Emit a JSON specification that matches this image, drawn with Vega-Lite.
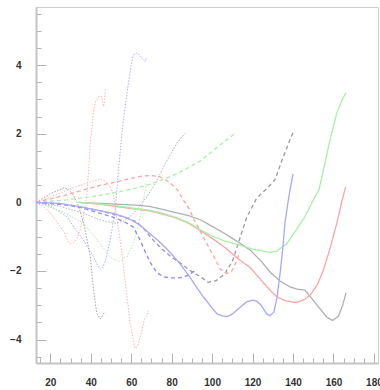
{
  "$schema": "https://vega.github.io/schema/vega-lite/v6.json",
  "autosize": {"type": "none"},
  "padding": {"left": 36, "top": 7, "right": 2, "bottom": 27},
  "width": 342,
  "height": 356,
  "background": "white",
  "config": {"view": {"stroke": "#d0d0d0", "strokeWidth": 1}},
  "data": {"values": [
    {"s": "Gs", "t": "solid", "x": 34, "y": 0}, {"s": "Gs", "t": "solid", "x": 45, "y": -0.03}, {"s": "Gs", "t": "solid", "x": 55, "y": -0.06}, {"s": "Gs", "t": "solid", "x": 62, "y": -0.08}, {"s": "Gs", "t": "solid", "x": 69, "y": -0.12}, {"s": "Gs", "t": "solid", "x": 75, "y": -0.2}, {"s": "Gs", "t": "solid", "x": 82, "y": -0.3}, {"s": "Gs", "t": "solid", "x": 88, "y": -0.38}, {"s": "Gs", "t": "solid", "x": 94, "y": -0.5}, {"s": "Gs", "t": "solid", "x": 100, "y": -0.7}, {"s": "Gs", "t": "solid", "x": 106, "y": -0.9}, {"s": "Gs", "t": "solid", "x": 110, "y": -1.05}, {"s": "Gs", "t": "solid", "x": 114, "y": -1.2}, {"s": "Gs", "t": "solid", "x": 119, "y": -1.4}, {"s": "Gs", "t": "solid", "x": 124, "y": -1.7}, {"s": "Gs", "t": "solid", "x": 129, "y": -2.05}, {"s": "Gs", "t": "solid", "x": 133.6, "y": -2.29}, {"s": "Gs", "t": "solid", "x": 138.5, "y": -2.46}, {"s": "Gs", "t": "solid", "x": 142, "y": -2.53}, {"s": "Gs", "t": "solid", "x": 145.9, "y": -2.56}, {"s": "Gs", "t": "solid", "x": 148.4, "y": -2.74}, {"s": "Gs", "t": "solid", "x": 152, "y": -3.0}, {"s": "Gs", "t": "solid", "x": 156.6, "y": -3.34}, {"s": "Gs", "t": "solid", "x": 159.6, "y": -3.44}, {"s": "Gs", "t": "solid", "x": 162.4, "y": -3.32}, {"s": "Gs", "t": "solid", "x": 164.5, "y": -3.0}, {"s": "Gs", "t": "solid", "x": 166.2, "y": -2.64},

    {"s": "Rs", "t": "solid", "x": 34, "y": 0}, {"s": "Rs", "t": "solid", "x": 45, "y": -0.06}, {"s": "Rs", "t": "solid", "x": 55, "y": -0.14}, {"s": "Rs", "t": "solid", "x": 62, "y": -0.2}, {"s": "Rs", "t": "solid", "x": 69, "y": -0.25}, {"s": "Rs", "t": "solid", "x": 76, "y": -0.35}, {"s": "Rs", "t": "solid", "x": 82, "y": -0.45}, {"s": "Rs", "t": "solid", "x": 88, "y": -0.6}, {"s": "Rs", "t": "solid", "x": 94, "y": -0.81}, {"s": "Rs", "t": "solid", "x": 100, "y": -1.05}, {"s": "Rs", "t": "solid", "x": 106, "y": -1.3}, {"s": "Rs", "t": "solid", "x": 113.8, "y": -1.69}, {"s": "Rs", "t": "solid", "x": 118.8, "y": -1.9}, {"s": "Rs", "t": "solid", "x": 124, "y": -2.25}, {"s": "Rs", "t": "solid", "x": 128.6, "y": -2.56}, {"s": "Rs", "t": "solid", "x": 132, "y": -2.75}, {"s": "Rs", "t": "solid", "x": 136, "y": -2.86}, {"s": "Rs", "t": "solid", "x": 141.5, "y": -2.92}, {"s": "Rs", "t": "solid", "x": 145, "y": -2.85}, {"s": "Rs", "t": "solid", "x": 148.4, "y": -2.71}, {"s": "Rs", "t": "solid", "x": 152, "y": -2.4}, {"s": "Rs", "t": "solid", "x": 155, "y": -1.98}, {"s": "Rs", "t": "solid", "x": 158, "y": -1.4}, {"s": "Rs", "t": "solid", "x": 161.6, "y": -0.62}, {"s": "Rs", "t": "solid", "x": 164, "y": 0.0}, {"s": "Rs", "t": "solid", "x": 166, "y": 0.45},

    {"s": "Ns", "t": "solid", "x": 34, "y": 0}, {"s": "Ns", "t": "solid", "x": 45, "y": -0.05}, {"s": "Ns", "t": "solid", "x": 55, "y": -0.12}, {"s": "Ns", "t": "solid", "x": 62, "y": -0.18}, {"s": "Ns", "t": "solid", "x": 69, "y": -0.23}, {"s": "Ns", "t": "solid", "x": 76, "y": -0.33}, {"s": "Ns", "t": "solid", "x": 82, "y": -0.44}, {"s": "Ns", "t": "solid", "x": 88, "y": -0.58}, {"s": "Ns", "t": "solid", "x": 94, "y": -0.79}, {"s": "Ns", "t": "solid", "x": 100, "y": -0.98}, {"s": "Ns", "t": "solid", "x": 106, "y": -1.12}, {"s": "Ns", "t": "solid", "x": 113.8, "y": -1.25}, {"s": "Ns", "t": "solid", "x": 120, "y": -1.36}, {"s": "Ns", "t": "solid", "x": 128.6, "y": -1.46}, {"s": "Ns", "t": "solid", "x": 132, "y": -1.42}, {"s": "Ns", "t": "solid", "x": 136.9, "y": -1.2}, {"s": "Ns", "t": "solid", "x": 141, "y": -0.85}, {"s": "Ns", "t": "solid", "x": 145.9, "y": -0.42}, {"s": "Ns", "t": "solid", "x": 149, "y": -0.05}, {"s": "Ns", "t": "solid", "x": 152.8, "y": 0.36}, {"s": "Ns", "t": "solid", "x": 155, "y": 0.94}, {"s": "Ns", "t": "solid", "x": 158.3, "y": 1.82}, {"s": "Ns", "t": "solid", "x": 161.6, "y": 2.6}, {"s": "Ns", "t": "solid", "x": 164, "y": 2.95}, {"s": "Ns", "t": "solid", "x": 166.2, "y": 3.2},

    {"s": "Bs", "t": "solid", "x": 13, "y": 0}, {"s": "Bs", "t": "solid", "x": 25, "y": -0.03}, {"s": "Bs", "t": "solid", "x": 35, "y": -0.13}, {"s": "Bs", "t": "solid", "x": 45, "y": -0.25}, {"s": "Bs", "t": "solid", "x": 51, "y": -0.32}, {"s": "Bs", "t": "solid", "x": 58, "y": -0.45}, {"s": "Bs", "t": "solid", "x": 64, "y": -0.65}, {"s": "Bs", "t": "solid", "x": 69, "y": -0.9}, {"s": "Bs", "t": "solid", "x": 74, "y": -1.15}, {"s": "Bs", "t": "solid", "x": 78, "y": -1.38}, {"s": "Bs", "t": "solid", "x": 84, "y": -1.78}, {"s": "Bs", "t": "solid", "x": 89, "y": -2.18}, {"s": "Bs", "t": "solid", "x": 92, "y": -2.45}, {"s": "Bs", "t": "solid", "x": 96, "y": -2.78}, {"s": "Bs", "t": "solid", "x": 100, "y": -3.08}, {"s": "Bs", "t": "solid", "x": 102.5, "y": -3.25}, {"s": "Bs", "t": "solid", "x": 105, "y": -3.31}, {"s": "Bs", "t": "solid", "x": 107.5, "y": -3.33}, {"s": "Bs", "t": "solid", "x": 110, "y": -3.25}, {"s": "Bs", "t": "solid", "x": 114, "y": -3.05}, {"s": "Bs", "t": "solid", "x": 117, "y": -2.9}, {"s": "Bs", "t": "solid", "x": 120, "y": -2.85}, {"s": "Bs", "t": "solid", "x": 122, "y": -2.88}, {"s": "Bs", "t": "solid", "x": 124, "y": -2.98}, {"s": "Bs", "t": "solid", "x": 127, "y": -3.25}, {"s": "Bs", "t": "solid", "x": 128.5, "y": -3.3}, {"s": "Bs", "t": "solid", "x": 130.5, "y": -3.2}, {"s": "Bs", "t": "solid", "x": 132, "y": -2.8}, {"s": "Bs", "t": "solid", "x": 133.6, "y": -2.07}, {"s": "Bs", "t": "solid", "x": 135, "y": -1.3}, {"s": "Bs", "t": "solid", "x": 136, "y": -0.6}, {"s": "Bs", "t": "solid", "x": 137.5, "y": 0.0}, {"s": "Bs", "t": "solid", "x": 138.5, "y": 0.36}, {"s": "Bs", "t": "solid", "x": 140, "y": 0.83},

    {"s": "Gd", "t": "dashed", "x": 13, "y": 0}, {"s": "Gd", "t": "dashed", "x": 30, "y": -0.08}, {"s": "Gd", "t": "dashed", "x": 45, "y": -0.25}, {"s": "Gd", "t": "dashed", "x": 55, "y": -0.4}, {"s": "Gd", "t": "dashed", "x": 62, "y": -0.55}, {"s": "Gd", "t": "dashed", "x": 66, "y": -0.75}, {"s": "Gd", "t": "dashed", "x": 70, "y": -1.05}, {"s": "Gd", "t": "dashed", "x": 75, "y": -1.35}, {"s": "Gd", "t": "dashed", "x": 80, "y": -1.6}, {"s": "Gd", "t": "dashed", "x": 85, "y": -1.8}, {"s": "Gd", "t": "dashed", "x": 89, "y": -1.98}, {"s": "Gd", "t": "dashed", "x": 95, "y": -2.2}, {"s": "Gd", "t": "dashed", "x": 98, "y": -2.33}, {"s": "Gd", "t": "dashed", "x": 102, "y": -2.28}, {"s": "Gd", "t": "dashed", "x": 106, "y": -2.1}, {"s": "Gd", "t": "dashed", "x": 110, "y": -1.72}, {"s": "Gd", "t": "dashed", "x": 114, "y": -1.0}, {"s": "Gd", "t": "dashed", "x": 117, "y": -0.45}, {"s": "Gd", "t": "dashed", "x": 122, "y": 0.12}, {"s": "Gd", "t": "dashed", "x": 127, "y": 0.4}, {"s": "Gd", "t": "dashed", "x": 131, "y": 0.65}, {"s": "Gd", "t": "dashed", "x": 135, "y": 1.3}, {"s": "Gd", "t": "dashed", "x": 138, "y": 1.75}, {"s": "Gd", "t": "dashed", "x": 140.5, "y": 2.1},

    {"s": "Rd", "t": "dashed", "x": 13, "y": 0}, {"s": "Rd", "t": "dashed", "x": 20, "y": 0.1}, {"s": "Rd", "t": "dashed", "x": 28, "y": 0.22}, {"s": "Rd", "t": "dashed", "x": 36.5, "y": 0.36}, {"s": "Rd", "t": "dashed", "x": 45, "y": 0.5}, {"s": "Rd", "t": "dashed", "x": 53, "y": 0.6}, {"s": "Rd", "t": "dashed", "x": 60, "y": 0.7}, {"s": "Rd", "t": "dashed", "x": 66, "y": 0.77}, {"s": "Rd", "t": "dashed", "x": 70, "y": 0.78}, {"s": "Rd", "t": "dashed", "x": 74, "y": 0.75}, {"s": "Rd", "t": "dashed", "x": 79, "y": 0.58}, {"s": "Rd", "t": "dashed", "x": 83, "y": 0.35}, {"s": "Rd", "t": "dashed", "x": 86, "y": 0.05}, {"s": "Rd", "t": "dashed", "x": 89, "y": -0.22}, {"s": "Rd", "t": "dashed", "x": 91, "y": -0.5}, {"s": "Rd", "t": "dashed", "x": 96, "y": -1.05}, {"s": "Rd", "t": "dashed", "x": 100.6, "y": -1.55}, {"s": "Rd", "t": "dashed", "x": 104, "y": -1.95}, {"s": "Rd", "t": "dashed", "x": 107.3, "y": -2.07}, {"s": "Rd", "t": "dashed", "x": 109.7, "y": -2.0}, {"s": "Rd", "t": "dashed", "x": 112.2, "y": -1.7}, {"s": "Rd", "t": "dashed", "x": 113.5, "y": -1.45},

    {"s": "Nd", "t": "dashed", "x": 13, "y": 0}, {"s": "Nd", "t": "dashed", "x": 28, "y": 0.07}, {"s": "Nd", "t": "dashed", "x": 40, "y": 0.16}, {"s": "Nd", "t": "dashed", "x": 50, "y": 0.26}, {"s": "Nd", "t": "dashed", "x": 60, "y": 0.38}, {"s": "Nd", "t": "dashed", "x": 68, "y": 0.5}, {"s": "Nd", "t": "dashed", "x": 75, "y": 0.65}, {"s": "Nd", "t": "dashed", "x": 82, "y": 0.82}, {"s": "Nd", "t": "dashed", "x": 88, "y": 1.0}, {"s": "Nd", "t": "dashed", "x": 94, "y": 1.2}, {"s": "Nd", "t": "dashed", "x": 99, "y": 1.43}, {"s": "Nd", "t": "dashed", "x": 105, "y": 1.72}, {"s": "Nd", "t": "dashed", "x": 111.4, "y": 2.01},

    {"s": "Bd", "t": "dashed", "x": 13, "y": 0}, {"s": "Bd", "t": "dashed", "x": 25, "y": -0.05}, {"s": "Bd", "t": "dashed", "x": 35, "y": -0.15}, {"s": "Bd", "t": "dashed", "x": 44.7, "y": -0.32}, {"s": "Bd", "t": "dashed", "x": 52, "y": -0.45}, {"s": "Bd", "t": "dashed", "x": 57, "y": -0.58}, {"s": "Bd", "t": "dashed", "x": 61, "y": -0.72}, {"s": "Bd", "t": "dashed", "x": 64.4, "y": -1.1}, {"s": "Bd", "t": "dashed", "x": 67, "y": -1.45}, {"s": "Bd", "t": "dashed", "x": 69.4, "y": -1.75}, {"s": "Bd", "t": "dashed", "x": 72.7, "y": -2.05}, {"s": "Bd", "t": "dashed", "x": 76, "y": -2.17}, {"s": "Bd", "t": "dashed", "x": 79.3, "y": -2.2}, {"s": "Bd", "t": "dashed", "x": 84, "y": -2.2}, {"s": "Bd", "t": "dashed", "x": 88, "y": -2.13}, {"s": "Bd", "t": "dashed", "x": 92, "y": -1.97},

    {"s": "Ra", "t": "dotted", "x": 13, "y": 0}, {"s": "Ra", "t": "dotted", "x": 17, "y": -0.15}, {"s": "Ra", "t": "dotted", "x": 20, "y": -0.3}, {"s": "Ra", "t": "dotted", "x": 23, "y": -0.55}, {"s": "Ra", "t": "dotted", "x": 26.6, "y": -0.85}, {"s": "Ra", "t": "dotted", "x": 28.5, "y": -1.1}, {"s": "Ra", "t": "dotted", "x": 29.9, "y": -1.2}, {"s": "Ra", "t": "dotted", "x": 31.5, "y": -1.18}, {"s": "Ra", "t": "dotted", "x": 33.2, "y": -1.05}, {"s": "Ra", "t": "dotted", "x": 34.8, "y": -0.8}, {"s": "Ra", "t": "dotted", "x": 36.5, "y": -0.42}, {"s": "Ra", "t": "dotted", "x": 38.1, "y": 0.26}, {"s": "Ra", "t": "dotted", "x": 39, "y": 1.0}, {"s": "Ra", "t": "dotted", "x": 39.8, "y": 1.72}, {"s": "Ra", "t": "dotted", "x": 40.6, "y": 2.2}, {"s": "Ra", "t": "dotted", "x": 41.4, "y": 2.69}, {"s": "Ra", "t": "dotted", "x": 42.5, "y": 2.95}, {"s": "Ra", "t": "dotted", "x": 43.9, "y": 3.08}, {"s": "Ra", "t": "dotted", "x": 45.5, "y": 3.08}, {"s": "Ra", "t": "dotted", "x": 46.3, "y": 2.79}, {"s": "Ra", "t": "dotted", "x": 46.8, "y": 2.9}, {"s": "Ra", "t": "dotted", "x": 47.2, "y": 3.33},

    {"s": "Rb", "t": "dotted", "x": 13, "y": 0}, {"s": "Rb", "t": "dotted", "x": 20, "y": 0.15}, {"s": "Rb", "t": "dotted", "x": 28, "y": 0.35}, {"s": "Rb", "t": "dotted", "x": 35, "y": 0.5}, {"s": "Rb", "t": "dotted", "x": 40, "y": 0.6}, {"s": "Rb", "t": "dotted", "x": 44.7, "y": 0.68}, {"s": "Rb", "t": "dotted", "x": 47.5, "y": 0.6}, {"s": "Rb", "t": "dotted", "x": 49.6, "y": 0.46}, {"s": "Rb", "t": "dotted", "x": 51.2, "y": 0.2}, {"s": "Rb", "t": "dotted", "x": 53, "y": -0.5}, {"s": "Rb", "t": "dotted", "x": 55, "y": -1.3}, {"s": "Rb", "t": "dotted", "x": 56.2, "y": -1.88}, {"s": "Rb", "t": "dotted", "x": 58, "y": -2.8}, {"s": "Rb", "t": "dotted", "x": 59.5, "y": -3.53}, {"s": "Rb", "t": "dotted", "x": 61, "y": -4.0}, {"s": "Rb", "t": "dotted", "x": 62, "y": -4.26}, {"s": "Rb", "t": "dotted", "x": 63, "y": -4.2}, {"s": "Rb", "t": "dotted", "x": 64.4, "y": -3.92}, {"s": "Rb", "t": "dotted", "x": 66, "y": -3.55}, {"s": "Rb", "t": "dotted", "x": 66.9, "y": -3.34}, {"s": "Rb", "t": "dotted", "x": 67.7, "y": -3.3}, {"s": "Rb", "t": "dotted", "x": 68.5, "y": -3.15},

    {"s": "Ba", "t": "dotted", "x": 13, "y": 0}, {"s": "Ba", "t": "dotted", "x": 20, "y": -0.1}, {"s": "Ba", "t": "dotted", "x": 28.2, "y": -0.42}, {"s": "Ba", "t": "dotted", "x": 32, "y": -0.75}, {"s": "Ba", "t": "dotted", "x": 36.4, "y": -1.1}, {"s": "Ba", "t": "dotted", "x": 41.4, "y": -1.59}, {"s": "Ba", "t": "dotted", "x": 43.5, "y": -1.85}, {"s": "Ba", "t": "dotted", "x": 44.7, "y": -1.95}, {"s": "Ba", "t": "dotted", "x": 46, "y": -1.9}, {"s": "Ba", "t": "dotted", "x": 47.5, "y": -1.65}, {"s": "Ba", "t": "dotted", "x": 49.6, "y": -1.1}, {"s": "Ba", "t": "dotted", "x": 52.1, "y": -0.22}, {"s": "Ba", "t": "dotted", "x": 53.5, "y": 0.8}, {"s": "Ba", "t": "dotted", "x": 55.4, "y": 2.01}, {"s": "Ba", "t": "dotted", "x": 57, "y": 2.8}, {"s": "Ba", "t": "dotted", "x": 58.6, "y": 3.47}, {"s": "Ba", "t": "dotted", "x": 60, "y": 4.0}, {"s": "Ba", "t": "dotted", "x": 61.1, "y": 4.3}, {"s": "Ba", "t": "dotted", "x": 62.8, "y": 4.35}, {"s": "Ba", "t": "dotted", "x": 64, "y": 4.3}, {"s": "Ba", "t": "dotted", "x": 65.3, "y": 4.2}, {"s": "Ba", "t": "dotted", "x": 67, "y": 4.1}, {"s": "Ba", "t": "dotted", "x": 67.5, "y": 4.23},

    {"s": "Na", "t": "dotted", "x": 13, "y": 0}, {"s": "Na", "t": "dotted", "x": 25, "y": -0.25}, {"s": "Na", "t": "dotted", "x": 36.5, "y": -0.61}, {"s": "Na", "t": "dotted", "x": 44.7, "y": -1.2}, {"s": "Na", "t": "dotted", "x": 49.6, "y": -1.59}, {"s": "Na", "t": "dotted", "x": 53.7, "y": -1.73}, {"s": "Na", "t": "dotted", "x": 57.8, "y": -1.59}, {"s": "Na", "t": "dotted", "x": 60.5, "y": -1.25}, {"s": "Na", "t": "dotted", "x": 62.7, "y": -0.9}, {"s": "Na", "t": "dotted", "x": 64.5, "y": -0.4}, {"s": "Na", "t": "dotted", "x": 66, "y": 0.07}, {"s": "Na", "t": "dotted", "x": 67.7, "y": 0.6},

    {"s": "Ga", "t": "dotted", "x": 13, "y": 0}, {"s": "Ga", "t": "dotted", "x": 20, "y": 0.25}, {"s": "Ga", "t": "dotted", "x": 26.6, "y": 0.42}, {"s": "Ga", "t": "dotted", "x": 29, "y": 0.38}, {"s": "Ga", "t": "dotted", "x": 31, "y": 0.25}, {"s": "Ga", "t": "dotted", "x": 33.2, "y": 0.0}, {"s": "Ga", "t": "dotted", "x": 35, "y": -0.3}, {"s": "Ga", "t": "dotted", "x": 36.5, "y": -0.61}, {"s": "Ga", "t": "dotted", "x": 38.2, "y": -1.1}, {"s": "Ga", "t": "dotted", "x": 39.8, "y": -1.59}, {"s": "Ga", "t": "dotted", "x": 40.6, "y": -2.1}, {"s": "Ga", "t": "dotted", "x": 41.4, "y": -2.56}, {"s": "Ga", "t": "dotted", "x": 43, "y": -3.24}, {"s": "Ga", "t": "dotted", "x": 44.7, "y": -3.39}, {"s": "Ga", "t": "dotted", "x": 45.5, "y": -3.35}, {"s": "Ga", "t": "dotted", "x": 46.3, "y": -3.24}, {"s": "Ga", "t": "dotted", "x": 47.2, "y": -3.2},

    {"s": "Gb", "t": "dotted", "x": 13, "y": 0}, {"s": "Gb", "t": "dotted", "x": 25, "y": -0.12}, {"s": "Gb", "t": "dotted", "x": 36.5, "y": -0.32}, {"s": "Gb", "t": "dotted", "x": 42, "y": -0.45}, {"s": "Gb", "t": "dotted", "x": 47.9, "y": -0.57}, {"s": "Gb", "t": "dotted", "x": 52.8, "y": -0.61}, {"s": "Gb", "t": "dotted", "x": 56, "y": -0.55}, {"s": "Gb", "t": "dotted", "x": 59.3, "y": -0.42}, {"s": "Gb", "t": "dotted", "x": 63, "y": -0.2}, {"s": "Gb", "t": "dotted", "x": 67.6, "y": 0.16}, {"s": "Gb", "t": "dotted", "x": 71, "y": 0.45}, {"s": "Gb", "t": "dotted", "x": 74, "y": 0.8}, {"s": "Gb", "t": "dotted", "x": 77.5, "y": 1.2}, {"s": "Gb", "t": "dotted", "x": 82.5, "y": 1.72}, {"s": "Gb", "t": "dotted", "x": 86.6, "y": 2.01}
  ]},
  "encoding": {
    "x": {"field": "x", "type": "quantitative",
      "scale": {"domain": [12.93, 182], "nice": false, "zero": false},
      "axis": {"title": null, "grid": false,
        "values": [15, 20, 25, 30, 35, 40, 45, 50, 55, 60, 65, 70, 75, 80, 85, 90, 95, 100, 105, 110, 115, 120, 125, 130, 135, 140, 145, 150, 155, 160, 165, 170, 175, 180],
        "tickSize": {"condition": {"test": "datum.value % 20 === 0", "value": -10}, "value": -5},
        "labelExpr": "datum.value % 20 === 0 ? format(datum.value, 'd') : ''",
        "labelPadding": 24, "labelOverlap": false, "labelFlush": false,
        "labelFont": "Liberation Sans", "labelFontSize": 10, "labelFontWeight": "bold", "labelColor": "#333333",
        "domainColor": "#c4c4c4", "domainWidth": 2, "tickColor": "#b4b4b4", "tickWidth": 1}},
    "y": {"field": "y", "type": "quantitative",
      "scale": {"domain": [-4.68, 5.69], "nice": false, "zero": false},
      "axis": {"title": null, "grid": false,
        "values": [-4.5, -4, -3.5, -3, -2.5, -2, -1.5, -1, -0.5, 0, 0.5, 1, 1.5, 2, 2.5, 3, 3.5, 4, 4.5, 5, 5.5],
        "tickSize": {"condition": {"test": "datum.value % 2 === 0", "value": -10}, "value": -5},
        "labelExpr": "datum.value % 2 === 0 ? format(datum.value, 'd') : ''",
        "labelPadding": 25, "labelOverlap": false, "labelFlush": false,
        "labelFont": "Liberation Sans", "labelFontSize": 10, "labelFontWeight": "bold", "labelColor": "#333333",
        "domainColor": "#c4c4c4", "domainWidth": 2, "tickColor": "#b4b4b4", "tickWidth": 1}},
    "color": {"field": "s", "type": "nominal", "legend": null,
      "scale": {
        "domain": ["Gs", "Rs", "Ns", "Bs", "Gd", "Rd", "Nd", "Bd", "Ra", "Rb", "Ba", "Na", "Ga", "Gb"],
        "range": ["#b0b0b0", "#ffa4a4", "#a6f0a6", "#a8a8ff", "#9a9a9a", "#ffa4a4", "#a6f2a6", "#8c8cf6", "#ffb4b4", "#ffb4b4", "#b0b0ff", "#b4ecb4", "#a4a4a4", "#b4b4b4"]}}
  },
  "layer": [
    {"transform": [{"filter": "datum.t === 'dotted'"}], "mark": {"type": "line", "strokeWidth": 1, "strokeDash": [1.5, 1.5], "clip": true}},
    {"transform": [{"filter": "datum.t === 'dashed'"}], "mark": {"type": "line", "strokeWidth": 1.3, "strokeDash": [4, 3], "clip": true}},
    {"transform": [{"filter": "datum.t === 'solid'"}], "mark": {"type": "line", "strokeWidth": 1.3, "clip": true}}
  ]
}
